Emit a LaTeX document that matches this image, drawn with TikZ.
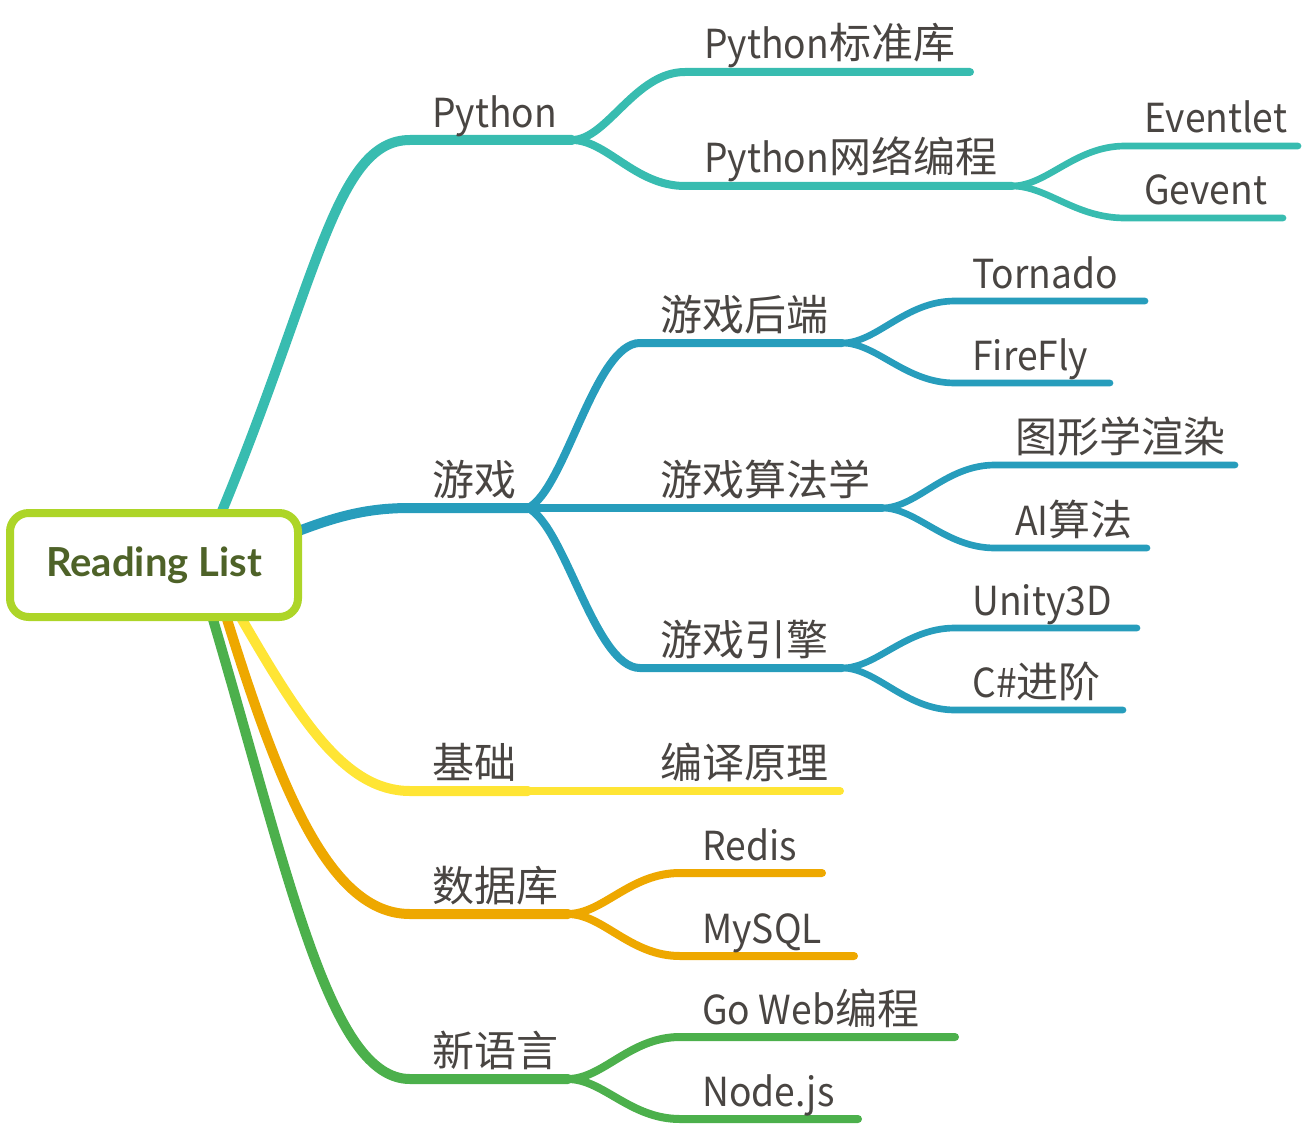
\documentclass[tikz,border=0pt]{standalone}
\usepackage{fontspec}
\setmainfont{Noto Sans CJK SC}[FakeStretch=0.93]
\newfontfamily\cjkfont{Noto Sans CJK SC}
\newfontfamily\rootfont{Lato}
\newcommand\zh[1]{{\cjkfont\fontsize{31.5}{31.5}\selectfont #1}}
\definecolor{pyteal}{HTML}{38BCB0}
\definecolor{gmblue}{HTML}{279DBC}
\definecolor{jcyellow}{HTML}{FFE535}
\definecolor{dborange}{HTML}{EEA800}
\definecolor{nlgreen}{HTML}{4CB04C}
\definecolor{rootlime}{HTML}{ADD528}
\definecolor{rootolive}{HTML}{4E6228}
\definecolor{txtgray}{HTML}{494542}
\begin{document}
\begin{tikzpicture}[x=0.75pt,y=-0.75pt,
  topic/.style={anchor=base west, inner sep=0pt, text=txtgray, font=\fontsize{30}{30}\selectfont},
  lvlone/.style={line width=7.5pt, line cap=round},
  lvltwo/.style={line width=6pt, line cap=round},
  lvlthree/.style={line width=5pt, line cap=round},
  rootbox/.style={draw=rootlime, fill=white, line width=6pt, rounded corners=14pt,
    minimum width=216pt, minimum height=78pt, text=rootolive, font=\rootfont\bfseries\fontsize{30}{30}\selectfont}]
\useasboundingbox (0,0) rectangle (1308,1130);
% Python
\coordinate (rpy) at (220,516);
\coordinate (py1) at (410,140);
\coordinate (py2) at (572,140);
\draw[lvlone, pyteal] (rpy) .. controls (318,280) and (335,140) .. (py1) -- (py2);
\node[topic] (py) at (432,128) {Python};
\coordinate (pl1) at (685,72);
\coordinate (pl1e) at (970,72);
\draw[lvltwo, pyteal] (py2) .. controls +(35,0) and +(-50,0) .. (pl1) -- (pl1e);
\node[topic] (pylib) at (704,59) {Python\zh{标准库}};
\coordinate (pn1) at (685,186);
\coordinate (pn1e) at (1012,186);
\draw[lvltwo, pyteal] (py2) .. controls +(35,0) and +(-50,0) .. (pn1) -- (pn1e);
\node[topic] (pynet) at (704,173) {Python\zh{网络编程}};
\coordinate (ev1) at (1125,146);
\coordinate (ev1e) at (1298,146);
\draw[lvlthree, pyteal] (pn1e) .. controls +(35,0) and +(-50,0) .. (ev1) -- (ev1e);
\node[topic] (ev) at (1144,133) {Eventlet};
\coordinate (gv1) at (1125,218);
\coordinate (gv1e) at (1283,218);
\draw[lvlthree, pyteal] (pn1e) .. controls +(35,0) and +(-50,0) .. (gv1) -- (gv1e);
\node[topic] (gv) at (1144,205) {Gevent};
% 游戏
\coordinate (rgm) at (296,532);
\coordinate (gm1) at (410,508);
\coordinate (gm2) at (528,508);
\draw[lvlone, gmblue] (rgm) .. controls (340,515) and (370,508) .. (gm1) -- (gm2);
\node[topic] (gm) at (432,495) {\zh{游戏}};
\coordinate (gb1) at (640,343);
\coordinate (gb2) at (842,343);
\draw[lvltwo, gmblue] (gm2) .. controls (565,490) and (595,343) .. (gb1) -- (gb2);
\node[topic] (gmback) at (660,330) {\zh{游戏后端}};
\coordinate (tn1) at (955,301);
\coordinate (tn1e) at (1145,301);
\draw[lvlthree, gmblue] (gb2) .. controls +(35,0) and +(-50,0) .. (tn1) -- (tn1e);
\node[topic] (tn) at (972,288) {Tornado};
\coordinate (ff1) at (955,383);
\coordinate (ff1e) at (1110,383);
\draw[lvlthree, gmblue] (gb2) .. controls +(35,0) and +(-50,0) .. (ff1) -- (ff1e);
\node[topic] (ff) at (972,370) {FireFly};
\coordinate (ga2) at (882,508);
\draw[lvltwo, gmblue] (gm2) -- (ga2);
\node[topic] (gmalg) at (660,495) {\zh{游戏算法学}};
\coordinate (tx1) at (995,465);
\coordinate (tx1e) at (1235,465);
\draw[lvlthree, gmblue] (ga2) .. controls +(35,0) and +(-50,0) .. (tx1) -- (tx1e);
\node[topic] (tx) at (1015,452) {\zh{图形学渲染}};
\coordinate (ai1) at (995,548);
\coordinate (ai1e) at (1147,548);
\draw[lvlthree, gmblue] (ga2) .. controls +(35,0) and +(-50,0) .. (ai1) -- (ai1e);
\node[topic] (ai) at (1015,535) {AI\zh{算法}};
\coordinate (ge1) at (640,668);
\coordinate (ge2) at (842,668);
\draw[lvltwo, gmblue] (gm2) .. controls (565,526) and (595,668) .. (ge1) -- (ge2);
\node[topic] (gmeng) at (660,655) {\zh{游戏引擎}};
\coordinate (un1) at (955,628);
\coordinate (un1e) at (1137,628);
\draw[lvlthree, gmblue] (ge2) .. controls +(35,0) and +(-50,0) .. (un1) -- (un1e);
\node[topic] (un) at (972,615) {Unity3D};
\coordinate (cs1) at (955,710);
\coordinate (cs1e) at (1123,710);
\draw[lvlthree, gmblue] (ge2) .. controls +(35,0) and +(-50,0) .. (cs1) -- (cs1e);
\node[topic] (cs) at (972,697) {C\#\zh{进阶}};
% 基础
\coordinate (rjc) at (240,616);
\coordinate (jc1) at (410,791);
\coordinate (jc2) at (528,791);
\draw[lvlone, jcyellow] (rjc) .. controls (300,720) and (345,791) .. (jc1) -- (jc2);
\node[topic] (jc) at (432,778) {\zh{基础}};
\coordinate (by2) at (840,791);
\draw[lvltwo, jcyellow] (jc2) -- (by2);
\node[topic] (by) at (660,778) {\zh{编译原理}};
% 数据库
\coordinate (rdb) at (226,616);
\coordinate (db1) at (410,914);
\coordinate (db2) at (568,914);
\draw[lvlone, dborange] (rdb) .. controls (280,790) and (330,914) .. (db1) -- (db2);
\node[topic] (db) at (432,901) {\zh{数据库}};
\coordinate (rd1) at (680,873);
\coordinate (rd1e) at (822,873);
\draw[lvltwo, dborange] (db2) .. controls +(35,0) and +(-50,0) .. (rd1) -- (rd1e);
\node[topic] (rd) at (702,860) {Redis};
\coordinate (ms1) at (680,956);
\coordinate (ms1e) at (854,956);
\draw[lvltwo, dborange] (db2) .. controls +(35,0) and +(-50,0) .. (ms1) -- (ms1e);
\node[topic] (ms) at (702,943) {MySQL};
% 新语言
\coordinate (rnl) at (212,616);
\coordinate (nl1) at (410,1079);
\coordinate (nl2) at (568,1079);
\draw[lvlone, nlgreen] (rnl) .. controls (290,880) and (330,1079) .. (nl1) -- (nl2);
\node[topic] (nl) at (432,1066) {\zh{新语言}};
\coordinate (go1) at (680,1037);
\coordinate (go1e) at (955,1037);
\draw[lvltwo, nlgreen] (nl2) .. controls +(35,0) and +(-50,0) .. (go1) -- (go1e);
\node[topic] (go) at (702,1024) {Go Web\zh{编程}};
\coordinate (nd1) at (680,1119);
\coordinate (nd1e) at (858,1119);
\draw[lvltwo, nlgreen] (nl2) .. controls +(35,0) and +(-50,0) .. (nd1) -- (nd1e);
\node[topic] (nd) at (702,1106) {Node.js};
% root
\node[rootbox] (root) at (154,565) {Reading List};
\end{tikzpicture}
\end{document}
